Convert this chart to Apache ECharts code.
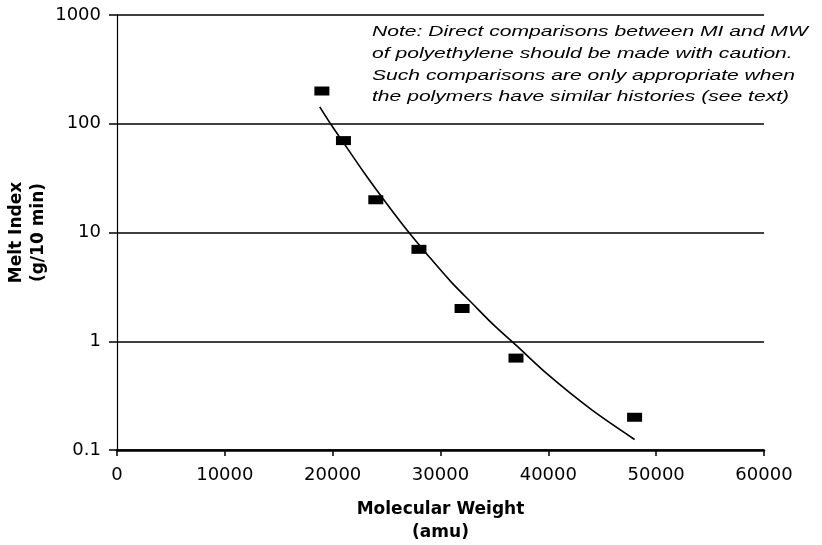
<!DOCTYPE html>
<html lang="en">
<head>
   <meta charset="UTF-8">
   <title>Melt Index vs Molecular Weight</title>
   <script type="text/javascript" src="https://cdn.jsdelivr.net/npm/echarts@6/dist/echarts.min.js"></script>
   <style>
      html, body { margin: 0; padding: 0; background: #fff; }
   </style>
</head>
<body>
   <div id="container" style="width: 822px; height: 545px"></div>

   <script>
      // measured points (MW, MI)
      var mwPoints = [19000, 21000, 24000, 28000, 32000, 37000, 48000];
      var miPoints = [200, 70, 20, 7, 2, 0.7, 0.2];

      // trend curve
      var mwCurve = [18800, 19800, 21000, 23000, 25000, 27000, 29000, 31000, 33000, 35000, 37000, 40000, 44000, 48000];
      var miCurve = [143, 100, 67, 34.5, 18.5, 10.2, 5.9, 3.5, 2.2, 1.39, 0.92, 0.49, 0.235, 0.125];

      var noteLines = [
         'Note: Direct comparisons between MI and MW',
         'of polyethylene should be made with caution.',
         'Such comparisons are only appropriate when',
         'the polymers have similar histories (see text)'
      ];

      var font = 'DejaVu Sans';

      var chartDom = document.getElementById('container');
      var myChart = echarts.init(chartDom);

      var option = {
         animation: false,
         backgroundColor: '#fff',
         grid: { left: 117, right: 58, top: 15, bottom: 95, containLabel: false, outerBoundsMode: 'none' },
         xAxis: {
            type: 'value',
            min: 0,
            max: 60000,
            interval: 10000,
            name: 'Molecular Weight\n(amu)',
            nameLocation: 'middle',
            nameGap: 48,
            nameMoveOverlap: false,
            nameTextStyle: { fontFamily: font, fontWeight: 'bold', fontSize: 17, color: '#000', lineHeight: 23 },
            axisLine: { lineStyle: { color: '#000', width: 2.5 } },
            axisTick: { show: true, length: 6, lineStyle: { color: '#000', width: 1.5 } },
            axisLabel: {
               fontFamily: font, fontSize: 18, color: '#000', margin: 16,
               formatter: function (v) { return String(v); }
            },
            splitLine: { show: false }
         },
         yAxis: {
            type: 'log',
            logBase: 10,
            min: 0.1,
            max: 1000,
            name: 'Melt Index\n(g/10 min)',
            nameLocation: 'middle',
            nameRotate: 90,
            nameGap: 67,
            nameMoveOverlap: false,
            nameTextStyle: { fontFamily: font, fontWeight: 'bold', fontSize: 17, color: '#000', lineHeight: 22 },
            axisLine: { show: true, lineStyle: { color: '#000', width: 1.2 } },
            axisTick: { show: true, length: 8, lineStyle: { color: '#000', width: 1.5 } },
            axisLabel: {
               fontFamily: font, fontSize: 18, color: '#000', margin: 16,
               formatter: function (v) { return String(+v.toPrecision(3)); }
            },
            splitLine: { show: true, lineStyle: { color: '#000', width: 1.6 } }
         },
         graphic: [{
            type: 'text',
            left: 372,
            top: 21,
            scaleX: 1.36,
            style: {
               text: noteLines.join('\n'),
               font: 'italic 15.5px "Liberation Sans"',
               lineHeight: 21.7,
               fill: '#000'
            }
         }],
         series: [
            {
               type: 'line',
               smooth: 0.3,
               showSymbol: false,
               lineStyle: { color: '#000', width: 1.6 },
               data: mwCurve.map(function (x, i) { return [x, miCurve[i]]; }),
               z: 2
            },
            {
               type: 'scatter',
               symbol: 'rect',
               symbolSize: [15, 9],
               itemStyle: { color: '#000', opacity: 1 },
               data: mwPoints.map(function (x, i) { return [x, miPoints[i]]; }),
               z: 3
            }
         ]
      };

      option && myChart.setOption(option);
   </script>
</body>
</html>
